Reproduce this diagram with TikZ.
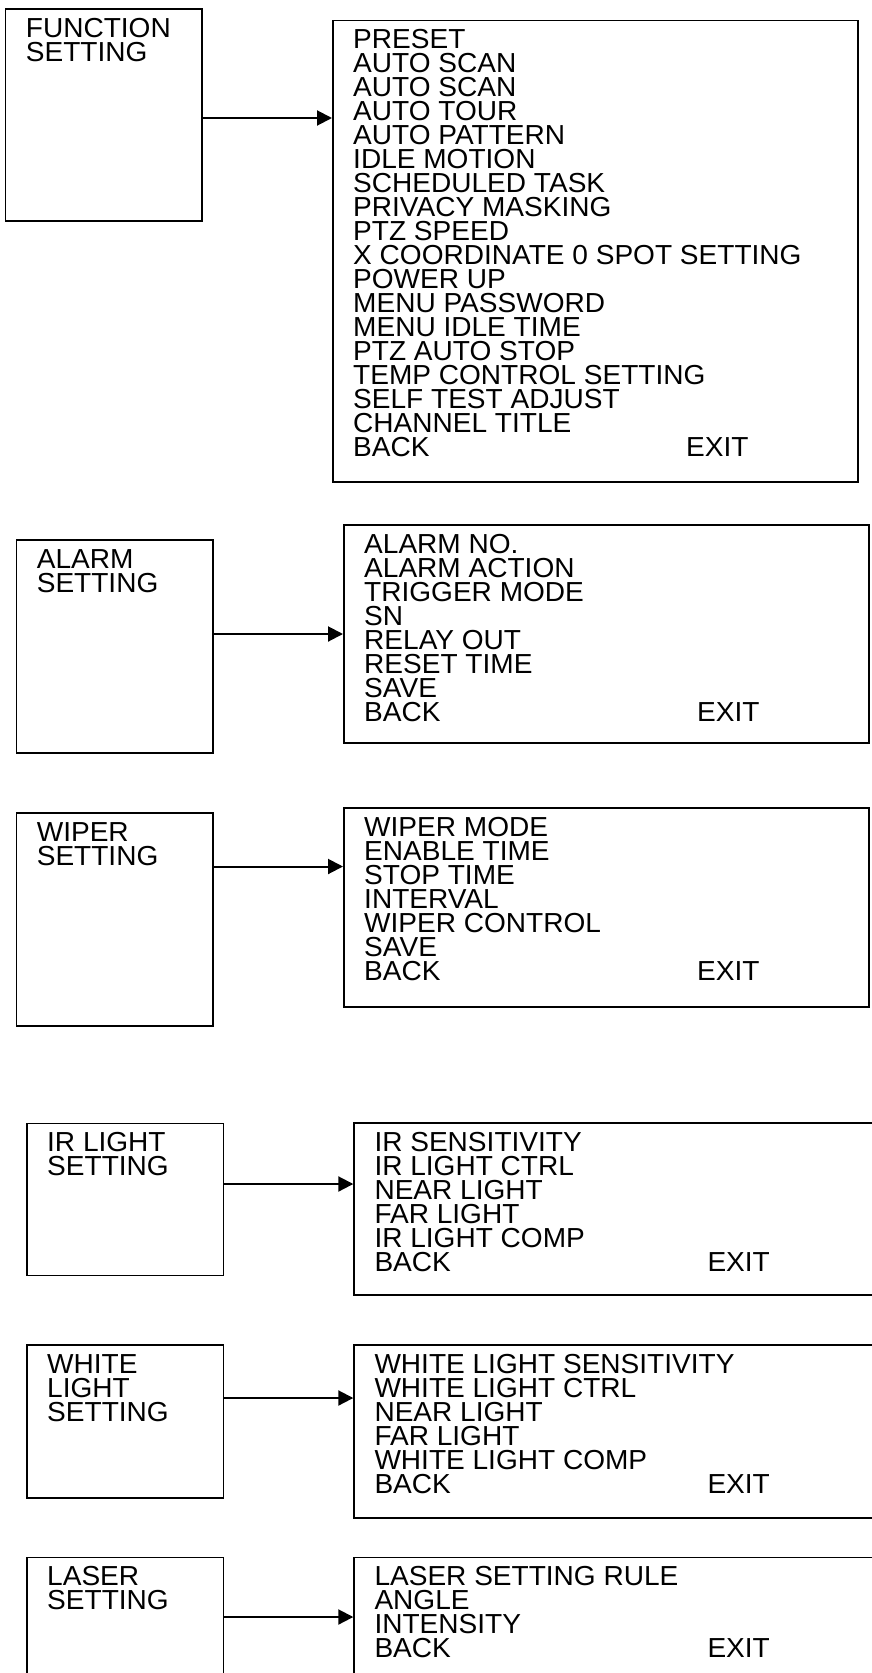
\documentclass[tikz,border=0pt]{standalone}
\usepackage{fontspec}
\setmainfont[FakeStretch=1.02]{Liberation Sans}
\usetikzlibrary{positioning,arrows.meta}
\newcommand{\backexit}{\makebox[333pt][l]{BACK}EXIT}
\tikzset{
    >={Triangle[length=15pt,width=15pt]},
    setbox/.style={
        rectangle,
        draw,
        line width=1.6pt,
        inner sep=0pt,
        anchor=north west,
        minimum width=196.5pt
    },
    menubox/.style={
        rectangle,
        draw,
        line width=1.6pt,
        inner sep=0pt,
        anchor=north west,
        minimum width=525pt
    },
    menutext/.style={align=left, inner sep=0pt, font=\fontsize{27.5}{24}\selectfont},
    link/.style={->, line width=2pt}
}
\begin{document}
\begin{tikzpicture}[x=1pt, y=-1pt]
\useasboundingbox (0,0) rectangle (872,1673);
\clip (0,0) rectangle (872,1673);


\node[setbox, minimum height=211.7pt] (fbox) at (4.7,8.3) {};
\node[menubox, minimum height=461.5pt] (fmenu) at (332,19.5) {};
\node[menutext, below right=10pt and 21pt of fbox.north west] (ftitle) {FUNCTION\\SETTING};
\node[menutext, below right=10pt and 21pt of fmenu.north west] (fitems)
    {PRESET\\AUTO SCAN\\AUTO SCAN\\AUTO TOUR\\AUTO PATTERN\\IDLE MOTION\\
     SCHEDULED TASK\\PRIVACY MASKING\\PTZ SPEED\\X COORDINATE 0 SPOT SETTING\\
     POWER UP\\MENU PASSWORD\\MENU IDLE TIME\\PTZ AUTO STOP\\
     TEMP CONTROL SETTING\\SELF TEST ADJUST\\CHANNEL TITLE\\\backexit};
\draw[link] (fbox.east |- 0,118) -- (fmenu.west |- 0,118);


\node[setbox, minimum height=213.3pt] (abox) at (15.6,539) {};
\node[menubox, minimum height=218pt] (amenu) at (343,524) {};
\node[menutext, below right=10pt and 21pt of abox.north west] (atitle) {ALARM\\SETTING};
\node[menutext, below right=10pt and 21pt of amenu.north west] (aitems)
    {ALARM NO.\\ALARM ACTION\\TRIGGER MODE\\SN\\RELAY OUT\\RESET TIME\\SAVE\\\backexit};
\draw[link] (abox.east |- 0,634) -- (amenu.west |- 0,634);


\node[setbox, minimum height=213pt] (wbox) at (15.6,812) {};
\node[menubox, minimum height=198.7pt] (wmenu) at (343,807.3) {};
\node[menutext, below right=10pt and 21pt of wbox.north west] (wtitle) {WIPER\\SETTING};
\node[menutext, below right=10pt and 21pt of wmenu.north west] (witems)
    {WIPER MODE\\ENABLE TIME\\STOP TIME\\INTERVAL\\WIPER CONTROL\\SAVE\\\backexit};
\draw[link] (wbox.east |- 0,866.5) -- (wmenu.west |- 0,866.5);


\node[setbox, minimum height=152pt] (ibox) at (26,1122.5) {};
\node[menubox, minimum height=172pt, minimum width=540pt] (imenu) at (353.3,1122.3) {};
\node[menutext, below right=10pt and 21pt of ibox.north west] (ititle) {IR LIGHT\\SETTING};
\node[menutext, below right=10pt and 21pt of imenu.north west] (iitems)
    {IR SENSITIVITY\\IR LIGHT CTRL\\NEAR LIGHT\\FAR LIGHT\\IR LIGHT COMP\\\backexit};
\draw[link] (ibox.east |- 0,1184) -- (imenu.west |- 0,1184);


\node[setbox, minimum height=153pt] (hbox) at (26,1344) {};
\node[menubox, minimum height=173pt, minimum width=540pt] (hmenu) at (353.3,1344) {};
\node[menutext, below right=10pt and 21pt of hbox.north west] (htitle) {WHITE\\LIGHT\\SETTING};
\node[menutext, below right=10pt and 21pt of hmenu.north west] (hitems)
    {WHITE LIGHT SENSITIVITY\\WHITE LIGHT CTRL\\NEAR LIGHT\\FAR LIGHT\\
     WHITE LIGHT COMP\\\backexit};
\draw[link] (hbox.east |- 0,1398) -- (hmenu.west |- 0,1398);


\node[setbox, minimum height=150pt] (lbox) at (26,1556.5) {};
\node[menubox, minimum height=150pt, minimum width=540pt] (lmenu) at (353.3,1556.5) {};
\node[menutext, below right=10pt and 21pt of lbox.north west] (ltitle) {LASER\\SETTING};
\node[menutext, below right=10pt and 21pt of lmenu.north west] (litems)
    {LASER SETTING RULE\\ANGLE\\INTENSITY\\\backexit};
\draw[link] (lbox.east |- 0,1617) -- (lmenu.west |- 0,1617);

\end{tikzpicture}
\end{document}
